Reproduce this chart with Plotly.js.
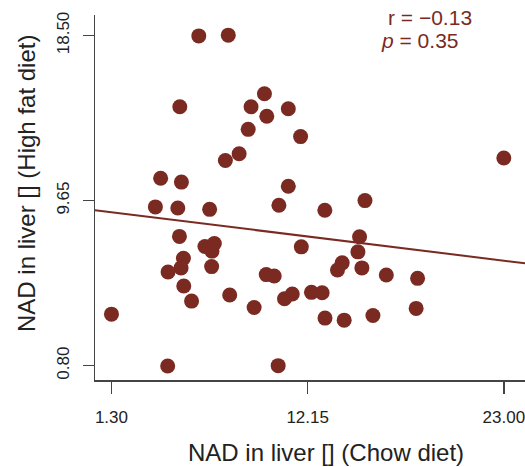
<!DOCTYPE html>
<html>
<head>
<meta charset="utf-8">
<script src="https://cdn.plot.ly/plotly-3.0.1.min.js"></script>
<style>html,body{margin:0;padding:0;background:#fff;}#chart{width:525px;height:467px;}</style>
</head>
<body>
<div id="chart"></div>
<script>
// NAD in liver, chow diet (x) vs high fat diet (y)
const chowDiet = [6.13, 7.76, 5.08, 9.76, 9.02, 9.89, 11.08, 8.86, 11.76, 8.36,
  7.60, 23.00, 4.02, 5.17, 11.08, 3.73, 4.97, 6.73, 10.56, 13.10,
  15.32, 5.06, 15.02, 6.47, 6.99, 6.86, 11.80, 14.93, 5.28, 5.15,
  4.43, 6.84, 14.06, 13.80, 15.15, 9.86, 10.30, 16.50, 18.23, 5.30,
  5.73, 7.84, 11.30, 10.87, 12.36, 12.95, 9.19, 13.11, 14.17, 15.76,
  18.15, 1.30, 4.41, 10.52];
const highFatDiet = [18.48, 18.52, 14.68, 15.38, 14.68, 14.17, 14.57, 13.47, 13.08, 12.16,
  11.80, 11.93, 10.85, 10.64, 10.42, 9.31, 9.25, 9.18, 9.40, 9.13,
  9.65, 7.73, 7.71, 7.19, 7.35, 6.94, 7.17, 6.90, 6.56, 6.04,
  5.82, 6.11, 6.31, 5.93, 6.04, 5.68, 5.61, 5.66, 5.48, 5.07,
  4.26, 4.59, 4.64, 4.39, 4.73, 4.71, 3.92, 3.35, 3.24, 3.49,
  3.87, 3.56, 0.78, 0.80];
const xTickVals = [1.30, 12.15, 23.00];
const xTickText = ['1.30', '12.15', '23.00'];
const yTickVals = [0.80, 9.65, 18.50];
const yTickText = ['0.80', '9.65', '18.50'];
const xRange = [0.39, 24.17];
const yRange = [0.03, 19.6];
const fitIntercept = 9.177;
const fitSlope = -0.1195;
const xTitle = 'NAD in liver [] (Chow diet)';
const yTitle = 'NAD in liver [] (High fat diet)';
const statR = 'r = \u22120.13';
const statP = '<i>p</i> = 0.35';

const red = '#7B2A22';
const fitX = xRange.slice();
const fitY = fitX.map(x => fitIntercept + fitSlope * x);

const traces = [
  {x: fitX, y: fitY, type: 'scatter', mode: 'lines',
   line: {color: red, width: 2}, hoverinfo: 'skip', cliponaxis: true},
  {x: chowDiet, y: highFatDiet, type: 'scatter', mode: 'markers',
   marker: {color: red, size: 15, line: {width: 0}}, cliponaxis: false}
];

const axisFont = {family: 'Liberation Sans, Arial, sans-serif', size: 17, color: '#222'};
const titleFont = {family: 'Liberation Sans, Arial, sans-serif', size: 24, color: '#222'};
const layout = {
  width: 525, height: 467,
  margin: {l: 95, r: 0, t: 15, b: 87},
  paper_bgcolor: '#fff', plot_bgcolor: '#fff',
  showlegend: false,
  font: {family: 'Liberation Sans, Arial, sans-serif', color: '#222'},
  xaxis: {
    range: xRange, showgrid: false, zeroline: false,
    showline: true, linecolor: '#444', linewidth: 1.5,
    ticks: 'outside', ticklen: 12, tickwidth: 1.5, tickcolor: '#444',
    tickvals: xTickVals, ticktext: xTickText, tickfont: axisFont,
    ticklabelstandoff: 9, ticklabeloverflow: 'allow'
  },
  yaxis: {
    range: yRange, showgrid: false, zeroline: false,
    showline: true, linecolor: '#444', linewidth: 1.5,
    ticks: 'outside', ticklen: 11, tickwidth: 1.5, tickcolor: '#444',
    tickvals: yTickVals, ticktext: yTickText, tickfont: axisFont,
    tickangle: -90, ticklabelstandoff: 7, ticklabeloverflow: 'allow'
  },
  annotations: [
    {xref: 'paper', yref: 'paper', x: 0.537, y: 0, yshift: -72, text: xTitle, showarrow: false,
     xanchor: 'center', yanchor: 'middle', font: titleFont},
    {xref: 'paper', yref: 'paper', x: 0, xshift: -68, y: 0.537, text: yTitle, showarrow: false,
     textangle: -90, xanchor: 'center', yanchor: 'middle', font: titleFont},
    {xref: 'paper', yref: 'paper', x: 0.779, y: 0.992, text: statR, showarrow: false,
     xanchor: 'center', yanchor: 'middle', font: {size: 21, color: red}},
    {xref: 'paper', yref: 'paper', x: 0.756, y: 0.93, text: statP, showarrow: false,
     xanchor: 'center', yanchor: 'middle', font: {size: 21, color: red}}
  ]
};

Plotly.newPlot('chart', traces, layout, {displayModeBar: false, staticPlot: true});
</script>
</body>
</html>
